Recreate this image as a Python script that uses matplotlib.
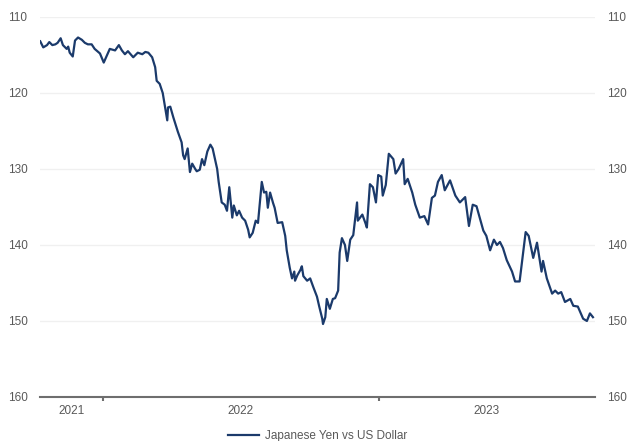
import pandas as pd
import matplotlib
matplotlib.use("Agg")
import matplotlib.pyplot as plt

# days relative to 2022-01-01
day_offsets = [
    -83, -79, -74, -71, -67, -63, -60, -56, -53, -48, -46, -44, -40, -37, -33,
    -28, -24, -20, -15, -11, -4, 1, 5, 9, 16, 21, 25, 29, 33, 40, 46, 52, 56,
    60, 65, 69, 71, 75, 79, 83, 85, 86, 89, 93, 99, 104, 106, 108, 112, 115,
    118, 122, 124, 128, 131, 134, 138, 142, 145, 151, 153, 157, 161, 164, 167,
    171, 173, 177, 180, 184, 188, 192, 194, 198, 202, 205, 210, 213, 216, 218,
    221, 225, 227, 231, 237, 241, 243, 247, 250, 253, 254, 257, 261, 263, 265,
    270, 274, 278, 283, 286, 290, 291, 294, 296, 300, 304, 307, 311, 313, 316,
    320, 323, 327, 331, 336, 337, 343, 347, 349, 353, 357, 361, 364, 368, 370,
    374, 378, 384, 387, 391, 397, 399, 403, 409, 413, 419, 425, 430, 435, 439,
    443, 448, 452, 459, 466, 472, 479, 484, 489, 494, 503, 507, 512, 517, 521,
    525, 529, 534, 541, 545, 551, 559, 563, 569, 574, 580, 582, 587, 594, 598,
    602, 606, 611, 618, 622, 628, 635, 640, 644, 648,
]
usd_jpy = [
    113.2, 114.0, 113.7, 113.3, 113.7, 113.6, 113.4, 112.8, 113.7, 114.2, 113.9,
    114.7, 115.2, 113.1, 112.7, 113.0, 113.4, 113.6, 113.6, 114.2, 114.8, 116.0,
    115.1, 114.2, 114.4, 113.7, 114.4, 114.9, 114.5, 115.3, 114.7, 114.9, 114.6,
    114.7, 115.3, 116.6, 118.4, 118.8, 120.0, 122.4, 123.6, 121.9, 121.8, 123.2,
    125.1, 126.5, 128.2, 128.7, 127.3, 130.4, 129.3, 130.0, 130.3, 130.1, 128.7,
    129.5, 127.7, 126.8, 127.3, 130.0, 131.7, 134.4, 134.7, 135.5, 132.4, 136.4,
    134.8, 136.1, 135.5, 136.4, 136.8, 138.0, 139.0, 138.4, 136.8, 137.1, 131.7,
    133.1, 133.0, 135.1, 133.1, 134.5, 135.1, 137.1, 137.0, 138.8, 140.7, 143.0,
    144.4, 143.5, 144.7, 144.0, 143.3, 142.8, 144.1, 144.7, 144.4, 145.5, 146.8,
    148.1, 149.7, 150.4, 149.5, 147.1, 148.4, 147.1, 147.0, 146.0, 141.0, 139.1,
    140.0, 142.1, 139.3, 138.7, 134.4, 136.8, 136.0, 137.1, 137.7, 132.0, 132.4,
    134.4, 130.8, 131.0, 133.5, 132.1, 128.0, 128.7, 130.6, 130.0, 128.7, 132.0,
    131.3, 133.1, 134.7, 136.4, 136.2, 137.3, 133.8, 133.5, 131.7, 130.8, 132.8,
    131.5, 133.5, 134.4, 133.7, 137.5, 134.7, 134.9, 138.1, 138.8, 140.7, 139.3,
    140.0, 139.6, 140.4, 142.0, 143.5, 144.8, 144.8, 138.3, 138.8, 141.7, 139.7,
    143.5, 142.1, 144.4, 146.4, 146.0, 146.4, 146.2, 147.5, 147.1, 148.0, 148.1,
    149.7, 150.0, 149.0, 149.5,
]
year_labels = ["2021", "2022", "2023"]
series_name = "Japanese Yen vs US Dollar"

base = pd.Timestamp("2022-01-01")
dates = base + pd.to_timedelta(day_offsets, unit="D")

plt.rcParams["font.family"] = ["Liberation Sans", "DejaVu Sans"]
navy = "#1b3a6b"
grey_text = "#595959"

fig = plt.figure(figsize=(6.35, 4.41), dpi=100)
ax = fig.add_axes([0.063, 0.0998, 0.874, 0.8617])

ax.plot(dates, usd_jpy, color=navy, linewidth=1.6, label=series_name)

x_start = base + pd.Timedelta(days=-83.3)
x_end = base + pd.Timedelta(days=650.7)
ax.set_xlim(x_start, x_end)
ax.set_ylim(160, 110)
ax.set_yticks([110, 120, 130, 140, 150, 160])

ax.grid(axis="y", color="#f0f0f0", linewidth=1.0)
ax.set_axisbelow(True)
for side in ["top", "left", "right"]:
    ax.spines[side].set_visible(False)
ax.spines["bottom"].set_color("#6e6e6e")
ax.spines["bottom"].set_linewidth(1.5)

ax.tick_params(axis="y", length=0, labelsize=8.5, labelcolor=grey_text,
               left=True, right=True, labelleft=True, labelright=True, pad=9)

# year boundaries get tick marks, labels sit in the middle of each span
boundaries = [pd.Timestamp("2022-01-01"), pd.Timestamp("2023-01-01")]
edges = [x_start] + boundaries + [x_end]
centers = [edges[i] + (edges[i + 1] - edges[i]) / 2 for i in range(len(edges) - 1)]
ax.set_xticks(boundaries)
ax.set_xticklabels([])
ax.tick_params(axis="x", which="major", length=3, width=1.5, color="#6e6e6e", direction="out")
ax.set_xticks(centers, minor=True)
ax.set_xticklabels(year_labels, minor=True)
ax.tick_params(axis="x", which="minor", length=0, labelsize=8.5, labelcolor=grey_text, pad=6)

leg = ax.legend(loc="upper center", bbox_to_anchor=(0.5, -0.06), frameon=False,
                fontsize=8.5, handlelength=2.6, handletextpad=0.5)
for t in leg.get_texts():
    t.set_color(grey_text)

fig.savefig("out.png", dpi=100, facecolor="white")
